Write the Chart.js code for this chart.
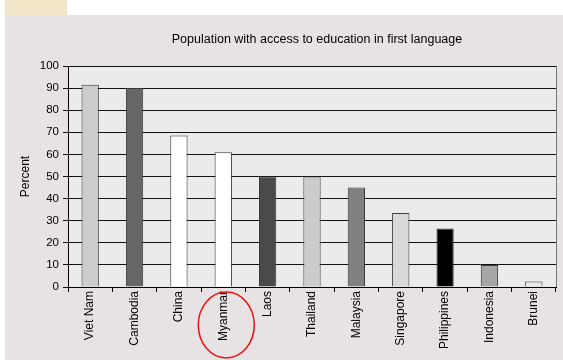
<!DOCTYPE html>
<html>
<head>
<meta charset="utf-8">
<script src="https://cdn.jsdelivr.net/npm/chart.js@4/dist/chart.umd.min.js"></script>
<style>
  html, body { margin: 0; padding: 0; background: #ffffff; }
  #wrap { position: relative; width: 563px; height: 360px; }
</style>
</head>
<body>
<div id="wrap"><canvas id="myChart" width="563" height="360"></canvas></div>
<script>
// ----------- DATA ------------
const countries = ['Viet Nam', 'Cambodia', 'China', 'Myanmar', 'Laos', 'Thailand',
                   'Malaysia', 'Singapore', 'Philippines', 'Indonesia', 'Brunei'];
const percent_values = [91.5, 90, 68.5, 61, 50, 50, 45, 33.5, 26.5, 10, 2.5];
const bar_colors = ['#cccccc', '#666666', '#ffffff', '#ffffff', '#4a4a4a', '#cccccc',
                    '#808080', '#d9d9d9', '#000000', '#a6a6a6', '#e8e8e8'];
const y_ticks = [0, 10, 20, 30, 40, 50, 60, 70, 80, 90, 100];
const chart_title = 'Population with access to education in first language';
const circled = 'Myanmar';

// ----------- PLUGINS ------------
const backdrop = {
  id: 'backdrop',
  beforeDraw(chart) {
    const ctx = chart.ctx;
    const a = chart.chartArea;
    ctx.save();
    ctx.fillStyle = '#ffffff';
    ctx.fillRect(0, 0, chart.width, chart.height);
    // little header picture in the corner
    ctx.fillStyle = '#f2e6c8';
    ctx.fillRect(5, 0, 62, 15);
    // grey panel
    ctx.fillStyle = '#e7e2e4';
    ctx.fillRect(5, 15, chart.width - 5, chart.height - 15);
    // plot area
    ctx.fillStyle = '#ebebeb';
    ctx.fillRect(a.left, a.top, a.right - a.left, a.bottom - a.top);
    ctx.restore();
  },
  afterDraw(chart) {
    const ctx = chart.ctx;
    const a = chart.chartArea;
    ctx.save();
    // title, centred over the plot
    ctx.fillStyle = '#000000';
    ctx.font = "12.5px 'Liberation Sans', Arial, sans-serif";
    ctx.textAlign = 'center';
    ctx.textBaseline = 'middle';
    ctx.fillText(chart_title, (a.left + a.right) / 2 + 5, 40);
    // right border of the plot
    ctx.strokeStyle = '#777777';
    ctx.lineWidth = 1;
    ctx.beginPath();
    ctx.moveTo(a.right + 0.5, a.top);
    ctx.lineTo(a.right + 0.5, a.bottom);
    ctx.stroke();
    // red ring round one label
    const x = chart.scales.x.getPixelForValue(countries.indexOf(circled));
    ctx.strokeStyle = '#ee1111';
    ctx.lineWidth = 1.5;
    ctx.beginPath();
    ctx.ellipse(x + 3, 325, 28, 33, 0, 0, Math.PI * 2);
    ctx.stroke();
    ctx.restore();
  }
};

// ----------- CHART ------------
Chart.defaults.font.family = "'Liberation Sans', Arial, sans-serif";
Chart.defaults.color = '#000000';

new Chart(document.getElementById('myChart'), {
  type: 'bar',
  data: {
    labels: countries,
    datasets: [{
      label: 'Percent',
      data: percent_values,
      backgroundColor: bar_colors,
      borderColor: '#3a3a3a',
      borderWidth: 1,
      barPercentage: 0.39,
      categoryPercentage: 1
    }]
  },
  options: {
    responsive: false,
    animation: false,
    layout: { padding: { left: 18, right: 7, top: 66, bottom: 0 } },
    plugins: {
      legend: { display: false },
      tooltip: { enabled: false },
      title: { display: false }
    },
    scales: {
      x: {
        afterFit(scale) { scale.height = 73; },
        border: { color: '#000000', width: 1 },
        grid: { drawOnChartArea: false, drawTicks: true, tickLength: 5, color: '#000000', offset: true },
        ticks: { minRotation: 90, maxRotation: 90, autoSkip: false, font: { size: 12 }, padding: -1 }
      },
      y: {
        min: 0,
        max: 100,
        afterFit(scale) { scale.width = 50; },
        afterBuildTicks(scale) { scale.ticks = y_ticks.map(v => ({ value: v })); },
        border: { color: '#000000', width: 1 },
        grid: { color: '#111111', lineWidth: 1, tickLength: 5 },
        ticks: { font: { size: 11.5 }, padding: 4 },
        title: { display: true, text: 'Percent', font: { size: 12 }, padding: { top: 0, bottom: 0 } }
      }
    }
  },
  plugins: [backdrop]
});
</script>
</body>
</html>
